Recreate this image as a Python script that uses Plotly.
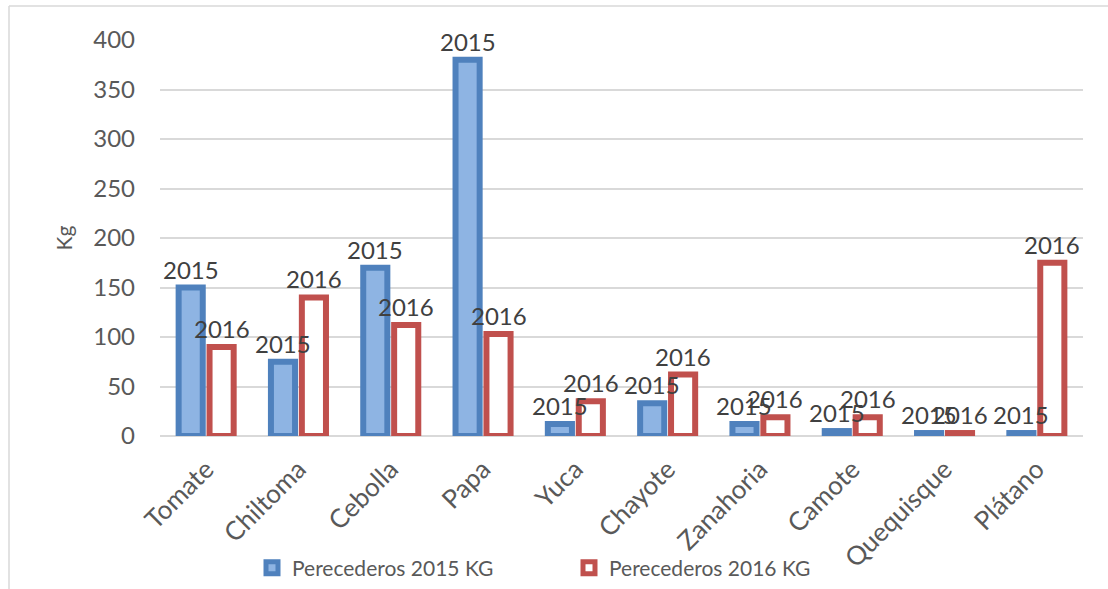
import plotly.graph_objects as go

categories = ["Tomate", "Chiltoma", "Cebolla", "Papa", "Yuca", "Chayote",
              "Zanahoria", "Camote", "Quequisque", "Plátano"]
kg_2015 = [150, 75, 170, 380, 12, 33, 12, 5, 3, 3]
kg_2016 = [90, 140, 112, 103, 35, 62, 19, 19, 3, 175]
label_2015 = "2015"
label_2016 = "2016"
series_names = ["Perecederos 2015 KG", "Perecederos 2016 KG"]
y_ticks = [0, 50, 100, 150, 200, 250, 300, 350, 400]

FONT = "Lato"
W, H = 1108, 589
L, R, T, B = 160, 25, 40, 153
PW, PH = W - L - R, H - T - B

fig = go.Figure()
fig.add_trace(go.Bar(
    x=categories, y=kg_2015, name=series_names[0],
    marker=dict(color="#8EB4E3", line=dict(color="#4F81BD", width=6)),
))
fig.add_trace(go.Bar(
    x=categories, y=kg_2016, name=series_names[1],
    marker=dict(color="#FFFFFF", line=dict(color="#C0504D", width=6)),
))

annotations = []
for cat, v1, v2 in zip(categories, kg_2015, kg_2016):
    for val, lab, xs in ((v1, label_2015, -15.5), (v2, label_2016, 15.5)):
        annotations.append(dict(
            x=cat, y=val, xref="x", yref="y", text=lab, showarrow=False,
            xshift=xs, yshift=2, yanchor="bottom", xanchor="center",
            font=dict(family=FONT, size=24, color="#404040"),
        ))


def px_x(p):
    return (p - L) / PW


def px_y(p):
    return (H - B - p) / PH


fig.update_layout(
    width=W, height=H,
    margin=dict(l=L, r=R, t=T, b=B),
    paper_bgcolor="white", plot_bgcolor="white",
    barmode="group", bargap=0.33, bargroupgap=0.22,
    font=dict(family=FONT, color="#595959"),
    showlegend=True,
    legend=dict(orientation="h", xref="container", yref="container",
                x=252 / W, xanchor="left", y=1 - 568 / H, yanchor="middle",
                bgcolor="rgba(0,0,0,0)",
                font=dict(family=FONT, size=21, color="#595959"),
                itemwidth=30, entrywidth=272, entrywidthmode="pixels"),
    xaxis=dict(tickangle=-45, tickfont=dict(family=FONT, size=26, color="#595959"),
               showline=False, showgrid=False, ticks="", automargin=False,
               ticklabelstandoff=12),
    yaxis=dict(range=[0, 400], tickvals=y_ticks, showgrid=True, gridcolor="#D9D9D9",
               gridwidth=1.5, zeroline=True, zerolinecolor="#D9D9D9", zerolinewidth=1.5,
               tickfont=dict(family=FONT, size=24, color="#595959"),
               ticklabelstandoff=24, automargin=False,
               title=dict(text="Kg", font=dict(family=FONT, size=21, color="#595959"),
                          standoff=14)),
    annotations=annotations,
    shapes=[
        dict(type="line", xref="paper", yref="paper",
             x0=px_x(9), x1=px_x(9), y0=px_y(6), y1=px_y(600),
             line=dict(color="#D9D9D9", width=1.5)),
        dict(type="line", xref="paper", yref="paper",
             x0=px_x(9), x1=px_x(1120), y0=px_y(6), y1=px_y(6),
             line=dict(color="#D9D9D9", width=1.5)),
    ],
)

fig.write_html("out.html", config={"displayModeBar": False},
               post_script="document.body.style.margin='0';")
